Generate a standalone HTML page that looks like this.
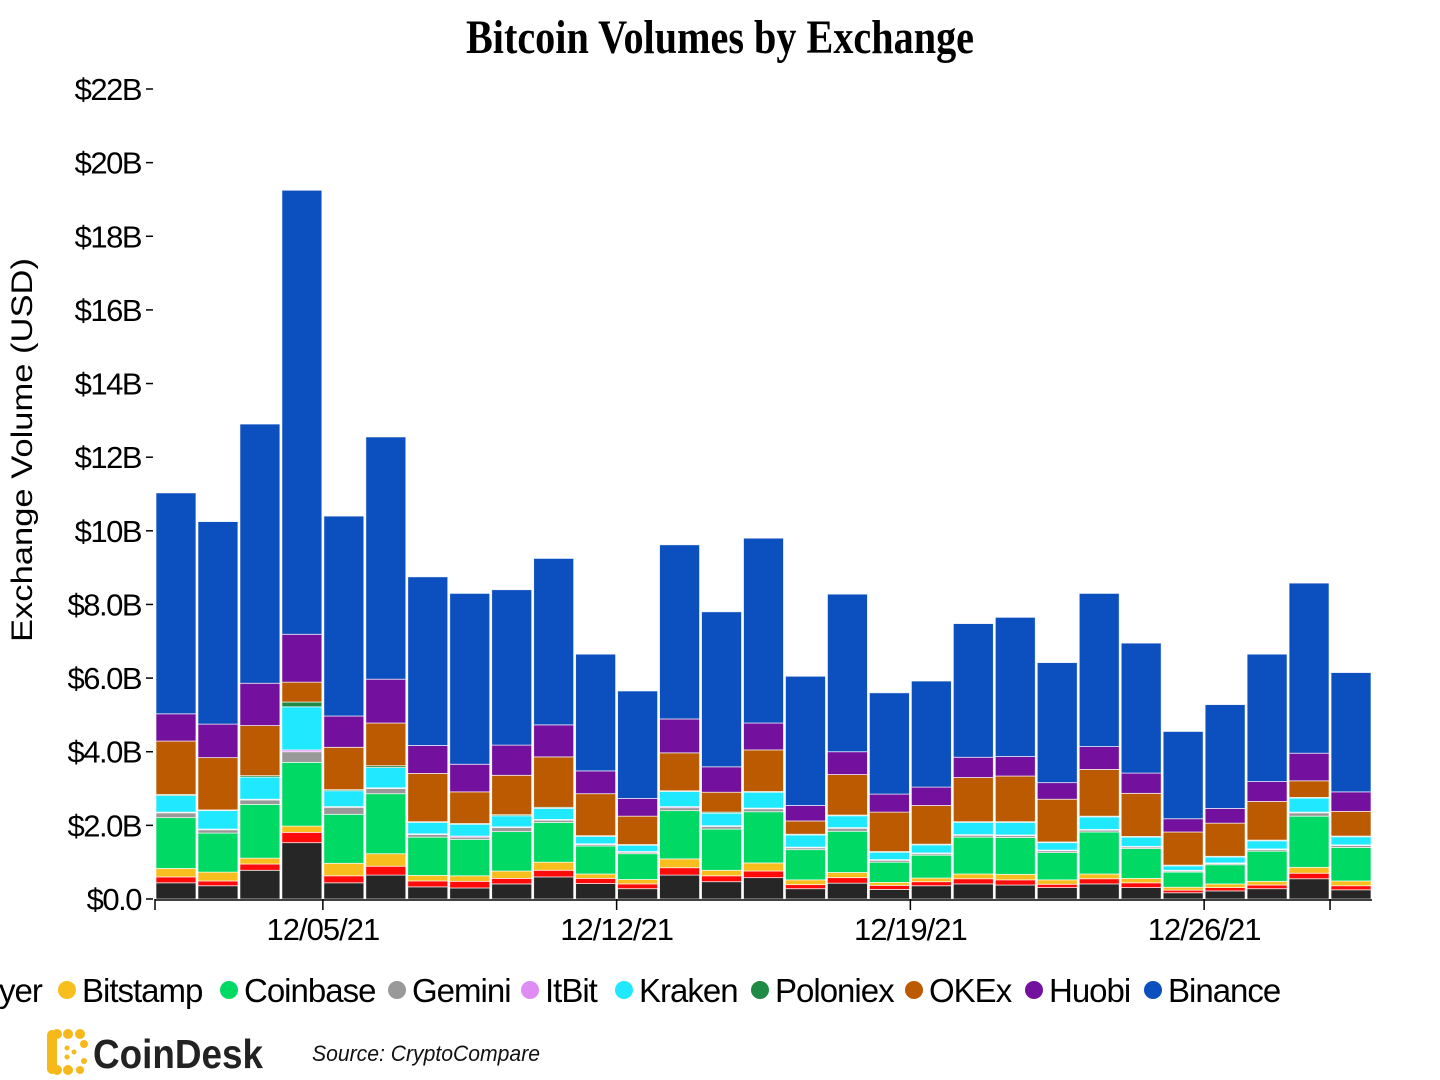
<!DOCTYPE html>
<html><head><meta charset="utf-8"><style>
html,body{margin:0;padding:0;background:#fff;}
svg{display:block;font-family:"Liberation Sans",sans-serif;}
</style></head><body>
<svg id="chart" width="1440" height="1080" viewBox="0 0 1440 1080" xmlns="http://www.w3.org/2000/svg">
<text x="720" y="53" text-anchor="middle" font-family="Liberation Serif, serif" font-weight="bold" font-size="48" textLength="508" lengthAdjust="spacingAndGlyphs">Bitcoin Volumes by Exchange</text>
<text transform="translate(32,450) rotate(-90)" text-anchor="middle" font-size="30" fill="#000" textLength="384" lengthAdjust="spacingAndGlyphs">Exchange Volume (USD)</text>
<g id="yaxis"></g>
<g id="bars"></g>
<g id="xaxis"></g>
<g id="legend"></g>
<g>
  <g fill="#f7b81a">
    <rect x="47" y="1030" width="10" height="44" rx="5"/>
    <circle cx="57" cy="1034" r="5"/><circle cx="68" cy="1034" r="5"/><circle cx="80" cy="1034" r="5"/>
    <circle cx="84" cy="1044" r="4"/>
    <circle cx="57" cy="1070" r="5"/><circle cx="68" cy="1070" r="5"/><circle cx="80" cy="1070" r="4"/>
    <circle cx="84" cy="1061" r="3"/>
    <circle cx="67" cy="1048" r="2.5"/><circle cx="67" cy="1057" r="2.5"/><circle cx="74" cy="1052" r="2.5"/>
  </g>
  <text x="93" y="1068" font-size="41" font-weight="bold" fill="#222" textLength="170" lengthAdjust="spacingAndGlyphs">CoinDesk</text>
</g>
<text x="312" y="1061" font-size="22" font-style="italic" fill="#111" textLength="228" lengthAdjust="spacingAndGlyphs">Source: CryptoCompare</text>
</svg>
<script>
const series = ["Other","Bitflyer","Bitstamp","Coinbase","Gemini","ItBit","Kraken","Poloniex","OKEx","Huobi","Binance"];
const colors = ["#262626","#ff0a0a","#f7be1e","#00d964","#999999","#e08cf5","#1fe8ff","#1f8a45","#bb5a00","#73119e","#0c4fbf"];
const dayLabels = ["12/01","12/02","12/03","12/04","12/05","12/06","12/07","12/08","12/09","12/10","12/11","12/12","12/13","12/14","12/15","12/16","12/17","12/18","12/19","12/20","12/21","12/22","12/23","12/24","12/25","12/26","12/27","12/28","12/29"];
const other    = [0.44,0.36,0.78,1.53,0.44,0.65,0.33,0.30,0.41,0.60,0.42,0.28,0.65,0.47,0.58,0.28,0.43,0.26,0.36,0.41,0.38,0.31,0.41,0.31,0.17,0.22,0.28,0.55,0.25];
const bitflyer = [0.16,0.13,0.17,0.28,0.19,0.24,0.16,0.18,0.15,0.18,0.14,0.13,0.20,0.16,0.18,0.11,0.15,0.11,0.11,0.14,0.14,0.09,0.14,0.13,0.07,0.09,0.10,0.15,0.11];
const bitstamp = [0.23,0.24,0.16,0.17,0.34,0.34,0.15,0.15,0.20,0.22,0.12,0.12,0.24,0.15,0.22,0.13,0.14,0.08,0.10,0.13,0.15,0.12,0.13,0.12,0.08,0.10,0.10,0.16,0.13];
const coinbase = [1.38,1.06,1.46,1.73,1.33,1.63,1.04,0.99,1.07,1.08,0.76,0.70,1.31,1.12,1.39,0.82,1.12,0.55,0.62,1.00,1.00,0.74,1.14,0.81,0.41,0.52,0.82,1.39,0.91];
const gemini   = [0.13,0.09,0.12,0.29,0.19,0.14,0.07,0.06,0.11,0.06,0.04,0.04,0.08,0.07,0.08,0.05,0.08,0.05,0.04,0.05,0.05,0.05,0.05,0.04,0.03,0.03,0.04,0.09,0.05];
const itbit    = [0.02,0.02,0.02,0.05,0.02,0.02,0.02,0.03,0.02,0.02,0.02,0.02,0.03,0.02,0.02,0.02,0.02,0.02,0.02,0.02,0.02,0.02,0.02,0.02,0.02,0.02,0.02,0.02,0.02];
const kraken   = [0.45,0.50,0.60,1.17,0.43,0.55,0.31,0.32,0.30,0.30,0.20,0.17,0.41,0.34,0.43,0.33,0.32,0.20,0.22,0.33,0.34,0.20,0.34,0.25,0.12,0.16,0.22,0.38,0.22];
const poloniex = [0.03,0.02,0.04,0.13,0.03,0.05,0.02,0.02,0.03,0.03,0.02,0.02,0.02,0.03,0.02,0.02,0.02,0.02,0.02,0.02,0.02,0.02,0.02,0.02,0.02,0.02,0.02,0.02,0.02];
const okex     = [1.45,1.42,1.36,0.54,1.15,1.16,1.31,0.86,1.07,1.37,1.14,0.77,1.03,0.54,1.13,0.36,1.10,1.07,1.05,1.20,1.24,1.16,1.27,1.17,0.90,0.90,1.05,0.45,0.67];
const huobi    = [0.74,0.91,1.15,1.30,0.85,1.19,0.76,0.75,0.82,0.87,0.62,0.48,0.92,0.69,0.73,0.42,0.62,0.49,0.50,0.55,0.53,0.45,0.62,0.55,0.36,0.40,0.54,0.75,0.53];
const binance  = [6.00,5.50,7.04,12.06,5.43,6.58,4.58,4.64,4.22,4.52,3.17,2.92,4.73,4.21,5.02,3.51,4.28,2.75,2.88,3.63,3.78,3.26,4.16,3.53,2.37,2.82,3.46,4.62,3.24];
const yTickValues = [0,2,4,6,8,10,12,14,16,18,20,22];
const yTickLabels = ["$0.0","$2.0B","$4.0B","$6.0B","$8.0B","$10B","$12B","$14B","$16B","$18B","$20B","$22B"];
const xTickIndex = [4,11,18,25];
const xTickLabels = ["12/05/21","12/12/21","12/19/21","12/26/21"];
const legendNames = ["Other","Bitflyer","Bitstamp","Coinbase","Gemini","ItBit","Kraken","Poloniex","OKEx","Huobi","Binance"];

const values = [other,bitflyer,bitstamp,coinbase,gemini,itbit,kraken,poloniex,okex,huobi,binance];
const NS = "http://www.w3.org/2000/svg";
const X0 = 155, X1 = 1372, Y0 = 899, Y1 = 89, YMAX = 22;
const n = dayLabels.length;
const bw = (X1 - X0) / n;
function xScale(i){ return X0 + i * bw; }
function yScale(v){ return Y0 - (v / YMAX) * (Y0 - Y1); }
function mk(tag, attrs, parent){ const e = document.createElementNS(NS, tag); for (const k in attrs) e.setAttribute(k, attrs[k]); parent.appendChild(e); return e; }

const gy = document.getElementById("yaxis");
yTickValues.forEach((v, k) => {
  const y = yScale(v);
  const t = mk("line", {x1: 146, x2: 153, y1: y, y2: y, stroke: "#000", "stroke-width": 1.5}, gy);
  
  
  const lab = mk("text", {x: 141, y: y + 11, "text-anchor": "end", "font-size": 31, "letter-spacing": "-1.5"}, gy);
  lab.textContent = yTickLabels[k];
  
  
});

const gb = document.getElementById("bars");
for (let i = 0; i < n; i++) {
  let cum = 0;
  for (let s = 0; s < series.length; s++) {
    const v = values[s][i];
    const yTop = yScale(cum + v), yBot = yScale(cum);
    cum += v;
    const r = mk("rect", {x: xScale(i) + 1, y: yTop, width: bw - 2, height: Math.max(0, yBot - yTop), fill: colors[s], stroke: "#ffffff", "stroke-width": 0.8, "stroke-opacity": 0.8}, gb);
    
    
  }
}

const gx = document.getElementById("xaxis");
const axl = mk("line", {x1: X0, x2: X1, y1: Y0 + 1, y2: Y0 + 1, stroke: "#000", "stroke-width": 1.5}, gx);


[0, n - 1].forEach(i => {
  const t = mk("line", {x1: xScale(i), x2: xScale(i), y1: Y0, y2: Y0 + 11, stroke: "#000", "stroke-width": 1.5}, gx);
  
  
});
xTickIndex.forEach((d, k) => {
  const x = xScale(d);
  const t = mk("line", {x1: x, x2: x, y1: Y0, y2: Y0 + 11, stroke: "#000", "stroke-width": 1.5}, gx);
  
  
  const lab = mk("text", {x: x, y: 940, "text-anchor": "middle", "font-size": 31, "letter-spacing": "-1"}, gx);
  lab.textContent = xTickLabels[k];
  
  
});

const gl = document.getElementById("legend");
const legendX = [-180, -66, 67, 229, 397, 530, 624, 760, 914, 1034, 1153];
legendNames.forEach((nm, k) => {
  const g = mk("g", {}, gl);
  
  
  mk("circle", {cx: legendX[k], cy: 990, r: 9, fill: colors[k]}, g);
  const t = mk("text", {x: legendX[k] + 15, y: 1002, "font-size": 33, "letter-spacing": "-1"}, g);
  t.textContent = nm;
});
</script>
</body></html>
